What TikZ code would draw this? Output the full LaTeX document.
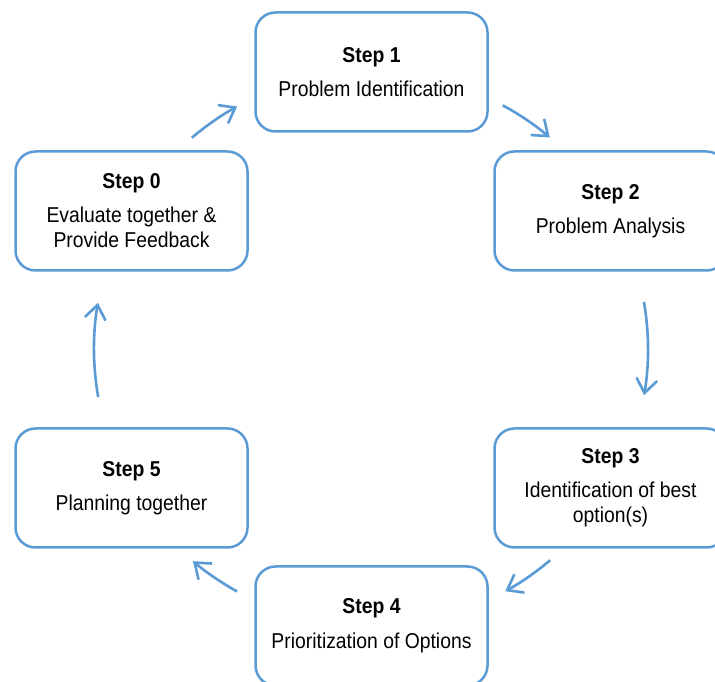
\documentclass[tikz,border=0pt]{standalone}
\usepackage{fontspec}
\setmainfont{Liberation Sans}[FakeStretch=0.9]
\usetikzlibrary{arrows.meta,calc}
\definecolor{sblue}{RGB}{91,155,213}
\begin{document}
\begin{tikzpicture}[x=1pt,y=1pt,
  stepbox/.style={draw=sblue, line width=2.5pt, rounded corners=20pt, fill=white,
    minimum width=232pt, minimum height=119pt, align=center, inner sep=0pt,
    font=\fontsize{21.5}{25}\selectfont},
  arr/.style={sblue, line width=2.6pt, -{Straight Barb[length=14pt,width=21pt]}}]
\useasboundingbox (0,0) rectangle (715,682);
\clip (0,0) rectangle (715,682);
\node[stepbox] (s1) at (371.5,610) {\textbf{Step 1}\\[9.5pt]Problem Identification};
\node[stepbox] (s2) at (610.5,471) {\textbf{Step 2}\\[9.5pt]Problem Analysis};
\node[stepbox] (s3) at (610.5,194) {\textbf{Step 3}\\[9pt]Identification of best\\option(s)};
\node[stepbox] (s4) at (371.5,56) {\textbf{Step 4}\\[10pt]Prioritization of Options};
\node[stepbox] (s5) at (131.5,194) {\textbf{Step 5}\\[9.5pt]Planning together};
\node[stepbox] (s0) at (131.5,471) {\textbf{Step 0}\\[9pt]Evaluate together \&\\Provide Feedback};
\coordinate (C) at (371,333);
\coordinate (a01) at ($(C)+(130.3:277)$);
\coordinate (a12) at ($(C)+(61.6:277)$);
\coordinate (a23) at ($(C)+(9.8:277)$);
\coordinate (a34) at ($(C)+(-49.7:277)$);
\coordinate (a45) at ($(C)+(-118.9:277)$);
\coordinate (a50) at ($(C)+(-170:277)$);
\draw[arr] (a01) arc[start angle=130.3, end angle=118.9, radius=277];
\draw[arr] (a12) arc[start angle=61.6, end angle=49.8, radius=277];
\draw[arr] (a23) arc[start angle=9.8, end angle=-9.6, radius=277];
\draw[arr] (a34) arc[start angle=-49.7, end angle=-61.0, radius=277];
\draw[arr] (a45) arc[start angle=-118.9, end angle=-130.0, radius=277];
\draw[arr] (a50) arc[start angle=-170, end angle=-189.6, radius=277];
\end{tikzpicture}
\end{document}
